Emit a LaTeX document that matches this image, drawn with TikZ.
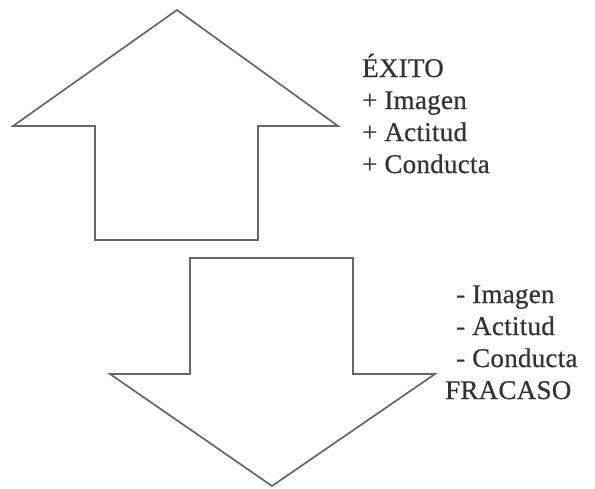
\documentclass[tikz,border=0pt]{standalone}
\usepackage{fontspec}
\setmainfont[LetterSpace=1,FakeBold=0.6]{Liberation Serif}
\begin{document}
\begin{tikzpicture}[x=1pt,y=-1pt,
  arrowshape/.style={draw=black!60, line width=1.7pt, fill=white, line join=miter},
  lbl/.style={anchor=base west, inner sep=0pt, font=\fontsize{27}{32}\selectfont, text=black!80}]
\useasboundingbox (0,0) rectangle (595,488);
% up arrow
\draw[arrowshape] (177,10) -- (338,126) -- (258,126) -- (258,240) -- (95,240) -- (95,126) -- (13,126) -- cycle;
% down arrow
\draw[arrowshape] (190,258) -- (353,258) -- (353,374) -- (435,374) -- (272,486) -- (110,374) -- (190,374) -- cycle;
% texts
\node[lbl] (exito) at (362,77) {ÉXITO};
\node[lbl] (pimg) at (362,109) {+ Imagen};
\node[lbl] (pact) at (362,141) {+ Actitud};
\node[lbl] (pcon) at (362,173) {+ Conducta};
\node[lbl] (mimg) at (456,303) {- Imagen};
\node[lbl] (mact) at (456,335) {- Actitud};
\node[lbl] (mcon) at (456,367) {- Conducta};
\node[lbl] (fracaso) at (445,399) {FRACASO};
\end{tikzpicture}
\end{document}
